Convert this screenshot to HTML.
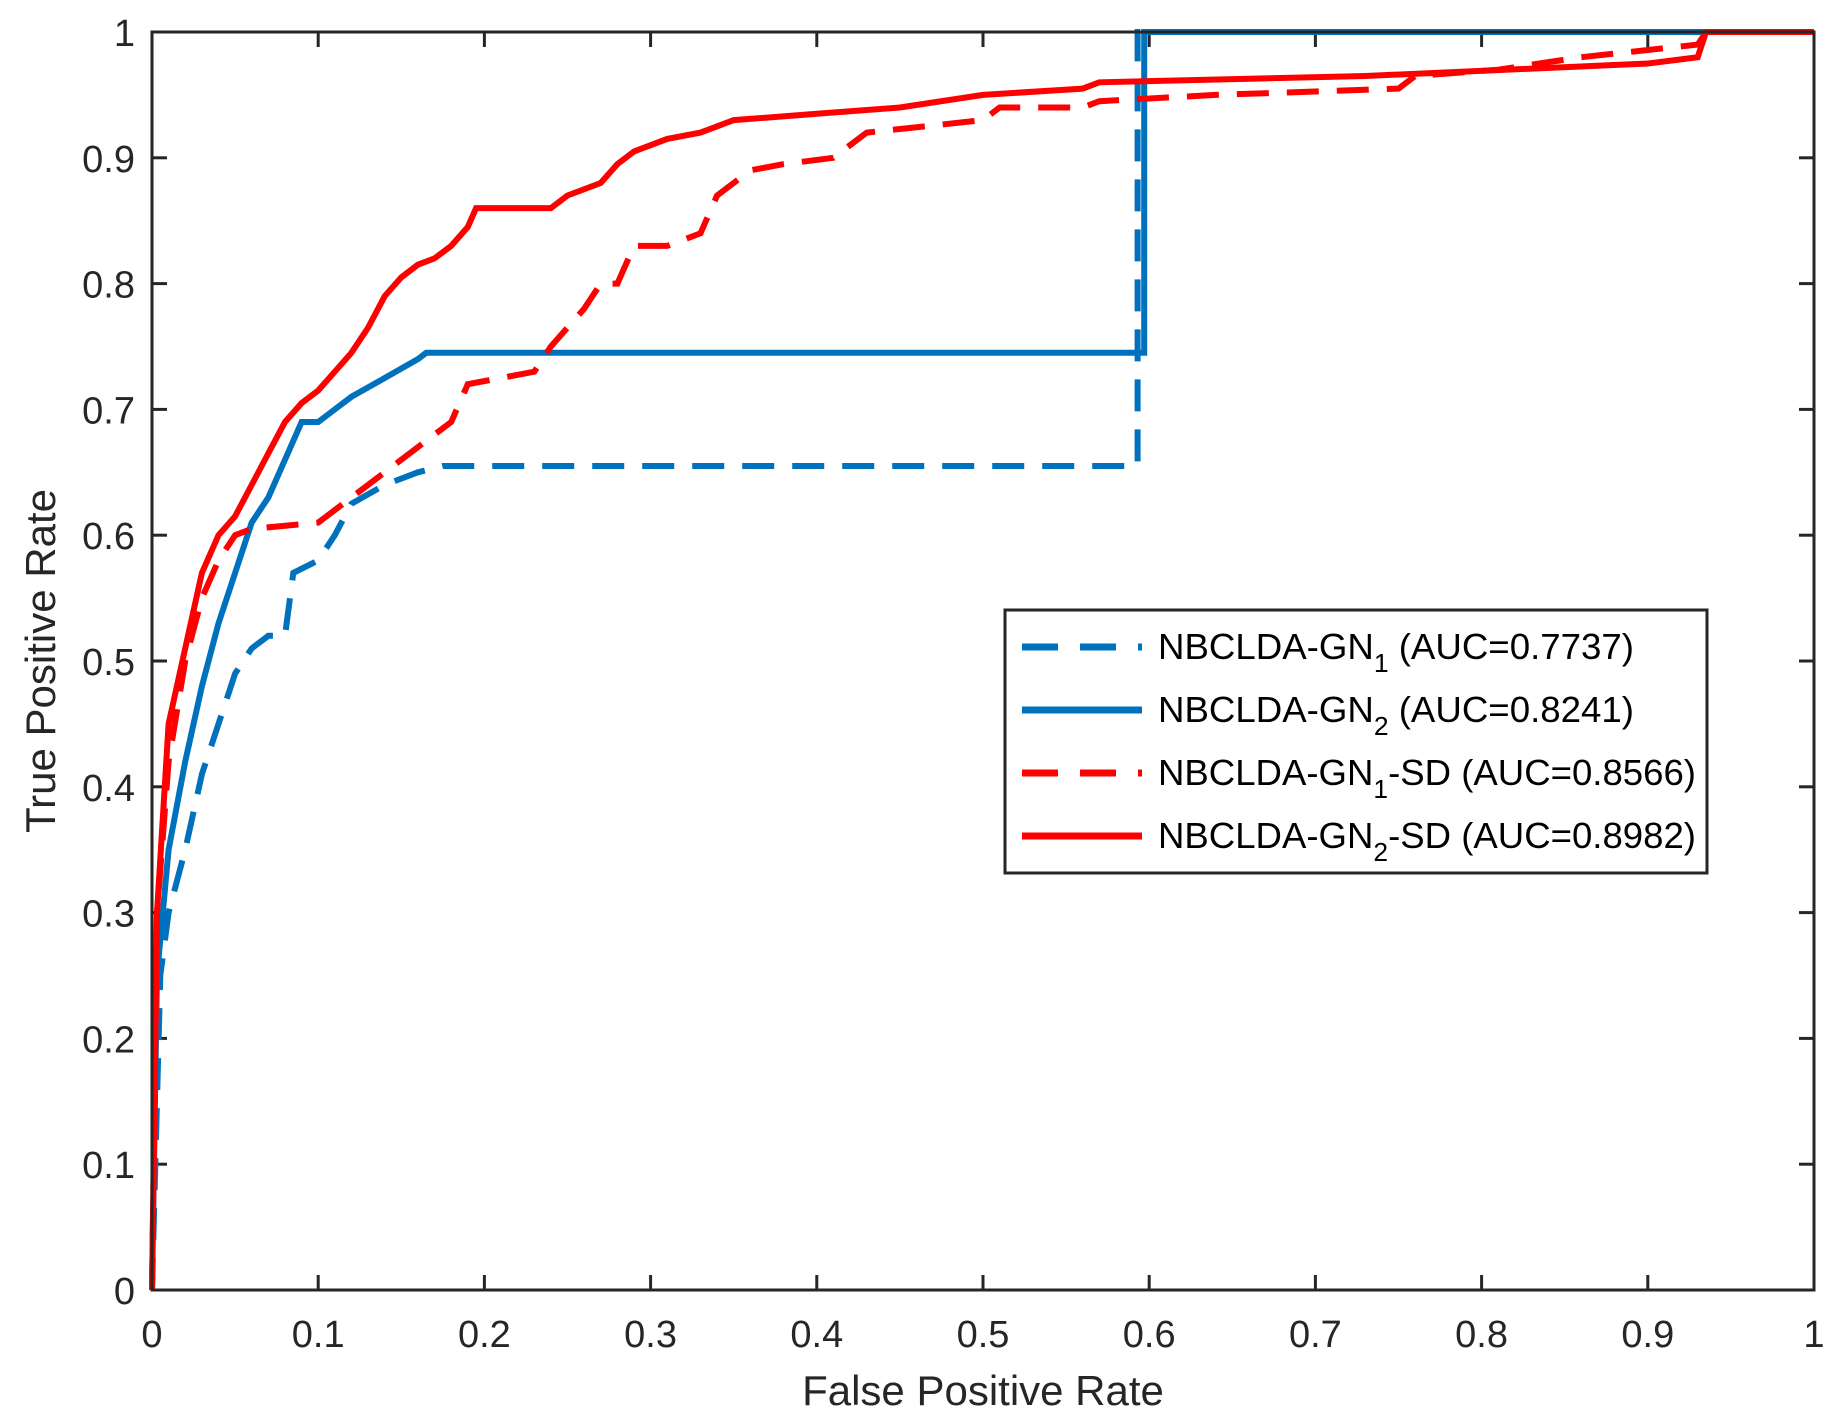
<!DOCTYPE html>
<html><head><meta charset="utf-8"><style>
html,body{margin:0;padding:0;background:#fff;}
svg{display:block;font-family:"Liberation Sans",Arial,sans-serif;}
</style></head><body>
<svg id="s" width="1837" height="1423" xmlns="http://www.w3.org/2000/svg"></svg>
<script>
const L=152,R=1814,T=32,B=1290,W=R-L,H=B-T;
const X=v=>L+v*W, Y=v=>B-v*H;
let o='<rect width="1837" height="1423" fill="#fff"/>';
for(let i=0;i<=10;i++){
 const v=i/10, lab=i==0?'0':i==10?'1':('0.'+i);
 const x=X(v), y=Y(v);
 o+=`<line x1="${x}" y1="${B}" x2="${x}" y2="${B-15}" stroke="#262626" stroke-width="3"/>`;
 o+=`<line x1="${x}" y1="${T}" x2="${x}" y2="${T+15}" stroke="#262626" stroke-width="3"/>`;
 o+=`<line x1="${L}" y1="${y}" x2="${L+15}" y2="${y}" stroke="#262626" stroke-width="3"/>`;
 o+=`<line x1="${R}" y1="${y}" x2="${R-15}" y2="${y}" stroke="#262626" stroke-width="3"/>`;
 o+=`<text x="${x}" y="1347" font-size="38" text-anchor="middle" fill="#262626">${lab}</text>`;
 o+=`<text x="135" y="${y+14}" font-size="38" text-anchor="end" fill="#262626">${lab}</text>`;
}
o+=`<text x="983" y="1405" font-size="42" text-anchor="middle" fill="#262626">False Positive Rate</text>`;
o+=`<text transform="translate(55,661) rotate(-90)" font-size="42" text-anchor="middle" fill="#262626">True Positive Rate</text>`;
const series=[
 {c:'#0072BD',d:true,p:[[0,0],[0.005,0.25],[0.01,0.3],[0.02,0.35],[0.03,0.41],[0.04,0.45],[0.05,0.49],[0.06,0.51],[0.07,0.52],[0.08,0.52],[0.085,0.57],[0.1,0.58],[0.11,0.6],[0.12,0.625],[0.14,0.64],[0.16,0.65],[0.175,0.655],[0.593,0.655],[0.593,1],[1,1]]},
 {c:'#0072BD',d:false,p:[[0,0],[0.003,0.25],[0.01,0.35],[0.02,0.42],[0.03,0.48],[0.04,0.53],[0.05,0.57],[0.06,0.61],[0.07,0.63],[0.08,0.66],[0.09,0.69],[0.1,0.69],[0.11,0.7],[0.12,0.71],[0.14,0.725],[0.16,0.74],[0.165,0.745],[0.597,0.745],[0.597,1],[1,1]]},
 {c:'#FF0000',d:true,p:[[0,0],[0.003,0.3],[0.01,0.42],[0.02,0.5],[0.03,0.55],[0.04,0.58],[0.05,0.6],[0.06,0.605],[0.1,0.61],[0.12,0.63],[0.14,0.65],[0.16,0.67],[0.18,0.69],[0.19,0.72],[0.23,0.73],[0.24,0.75],[0.26,0.78],[0.27,0.8],[0.28,0.8],[0.29,0.83],[0.31,0.83],[0.33,0.84],[0.34,0.87],[0.36,0.89],[0.38,0.895],[0.41,0.9],[0.42,0.91],[0.43,0.92],[0.5,0.93],[0.51,0.94],[0.56,0.94],[0.57,0.945],[0.64,0.95],[0.75,0.955],[0.76,0.965],[0.81,0.97],[0.86,0.98],[0.93,0.99],[0.935,1],[1,1]]},
 {c:'#FF0000',d:false,p:[[0,0],[0.003,0.3],[0.01,0.45],[0.02,0.51],[0.03,0.57],[0.04,0.6],[0.05,0.615],[0.06,0.64],[0.07,0.665],[0.08,0.69],[0.09,0.705],[0.1,0.715],[0.11,0.73],[0.12,0.745],[0.13,0.765],[0.14,0.79],[0.15,0.805],[0.16,0.815],[0.17,0.82],[0.18,0.83],[0.19,0.845],[0.195,0.86],[0.24,0.86],[0.25,0.87],[0.27,0.88],[0.28,0.895],[0.29,0.905],[0.31,0.915],[0.33,0.92],[0.35,0.93],[0.4,0.935],[0.45,0.94],[0.5,0.95],[0.56,0.955],[0.57,0.96],[0.73,0.965],[0.9,0.975],[0.93,0.98],[0.935,1],[1,1]]}
];
for(const s of series){
 const pts=s.p.map(q=>X(q[0]).toFixed(1)+','+Y(q[1]).toFixed(1)).join(' ');
 o+=`<polyline points="${pts}" fill="none" stroke="${s.c}" stroke-width="6" stroke-linejoin="miter" ${s.d?'stroke-dasharray="32 18"':''}/>`;
}
o+=`<rect x="${L}" y="${T}" width="${W}" height="${H}" fill="none" stroke="#262626" stroke-width="3"/>`;
o+=`<rect x="1005" y="610" width="702" height="263" fill="#fff" stroke="#262626" stroke-width="3"/>`;
const lg=[['1',' (AUC=0.7737)',true,'#0072BD',476],['2',' (AUC=0.8241)',false,'#0072BD',476],['1','-SD (AUC=0.8566)',true,'#FF0000',538],['2','-SD (AUC=0.8982)',false,'#FF0000',538]];
const ys=[647,710,773,836];
lg.forEach((g,i)=>{
 const y=ys[i];
 o+=`<line x1="1022" y1="${y}" x2="1142" y2="${y}" stroke="${g[3]}" stroke-width="7" ${g[2]?'stroke-dasharray="36 22"':''}/>`;
 o+=`<text x="1158" y="${y+12}" font-size="36" fill="#000" textLength="${g[4]}" lengthAdjust="spacingAndGlyphs">NBCLDA-GN<tspan font-size="26" dy="13">${g[0]}</tspan><tspan dy="-13">${g[1]}</tspan></text>`;
});
document.getElementById('s').innerHTML=o;
</script>
</body></html>
